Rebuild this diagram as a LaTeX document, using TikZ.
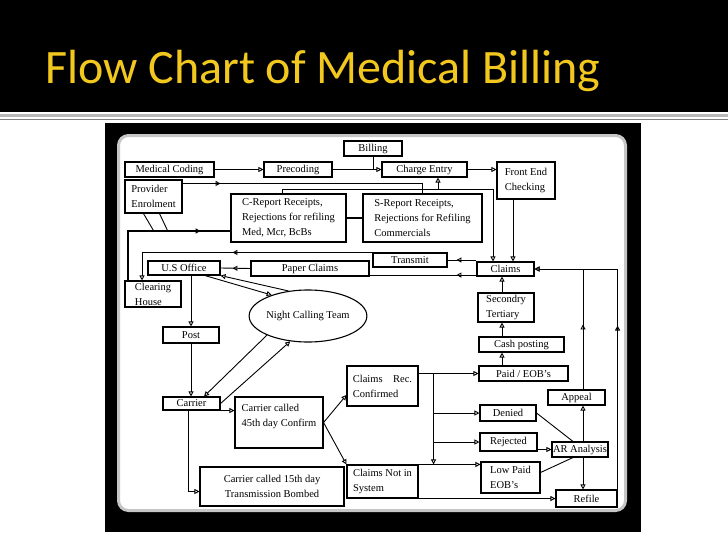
\documentclass[tikz,border=0pt]{standalone}
\usepackage{fontspec}
\setmainfont{Liberation Serif}
\newfontfamily\titlefont{Carlito}
\usetikzlibrary{arrows.meta,shapes.geometric,decorations.markings,calc}
\definecolor{titleyellow}{RGB}{242,200,30}
\newcommand\bx[7][]{\node[box,#1,minimum width={#5-#3},minimum height={#6-#4}] (#2) at ({(#3+#5)/2},{(#4+#6)/2}) {#7};}
\begin{document}
\begin{tikzpicture}[x=1pt,y=-1pt,
  box/.style={draw,line width=1.1pt,fill=white,inner sep=0pt,font=\fontsize{10.5}{15}\selectfont,align=center},
  conn/.style={line width=0.9pt},
  heavy/.style={line width=1.8pt},
  >={Triangle[open,length=5pt,width=5pt]},
  midarr/.style={postaction={decorate,decoration={markings,mark=at position #1 with {\arrow{Triangle[open,length=5pt,width=5pt]}}}}}]
\useasboundingbox (0,0) rectangle (728,546);
\fill[white] (0,0) rectangle (728,546);
% title band
\fill[black] (0,0) rectangle (728,112);
\draw[gray!55,line width=3pt] (0,115) -- (728,115);
\draw[gray,line width=0.8pt] (0,119.5) -- (728,119.5);
\node[anchor=base west,inner sep=0pt,text=titleyellow,font=\titlefont\fontsize{48}{48}\selectfont] (title) at (45,83) {Flow Chart of Medical Billing};
% frame
\fill[black] (105,123) rectangle (641,532);
\draw[gray!45,line width=3pt,fill=white,rounded corners=10pt] (118.5,135.5) rectangle (625.5,510.5);
% boxes
\bx{bill}{344}{141}{402}{156}{Billing}
\bx{mc}{125}{162}{214}{177}{Medical Coding}
\bx{pre}{264}{162}{332}{177}{Precoding}
\bx{ce}{382}{162}{467}{177}{Charge Entry}
\bx[align=left]{fec}{497}{162}{555}{199}{Front End\\Checking}
\bx[align=left]{pe}{125}{180}{182}{213}{Provider\\Enrolment}
\bx[align=left]{crep}{231}{194}{346}{242}{C-Report Receipts,\\Rejections for refiling\\Med, Mcr, BcBs}
\bx[align=left]{srep}{363}{194}{482}{242}{S-Report Receipts,\\Rejections for Refiling\\Commercials}
\bx{trans}{373}{253}{447}{267}{Transmit}
\bx{paper}{251}{261}{369}{276}{Paper Claims}
\bx{uso}{148}{261}{220}{275}{U.S Office}
\bx{claims}{477}{262}{534}{276}{Claims}
\bx[align=left]{ch}{125}{281}{181}{307}{Clearing\\House}
\bx[align=left]{sec}{478}{293}{534}{322}{Secondry\\Tertiary}
\bx{post}{163}{327}{219}{343}{Post}
\bx{cash}{479}{337}{564}{352}{Cash posting}
\bx[align=left]{crc}{347}{366}{418}{406}{Claims\quad Rec.\\Confirmed}
\bx{paid}{479}{366}{568}{381}{Paid / EOB's}
\bx{carr}{163}{397}{220}{410}{Carrier}
\bx[align=left]{c45}{235}{397}{323}{448}{Carrier called\\45th day Confirm\\\mbox{}}
\bx{appeal}{548}{390}{605}{405}{Appeal}
\bx{denied}{480}{405}{536}{421}{Denied}
\bx{rej}{480}{433}{537}{451}{Rejected}
\bx{ar}{552}{442}{608}{457}{AR Analysis}
\bx[align=left]{low}{481}{462}{540}{493}{Low Paid\\EOB's}
\bx[align=left]{cnis}{347}{465}{418}{498}{Claims Not in\\System}
\bx{c15}{200}{467}{344}{506}{Carrier called 15th day\\Transmission Bombed}
\bx{refile}{556}{490}{617}{507}{Refile}
\node[draw,ellipse,line width=1.1pt,fill=white,inner sep=0pt,minimum width=116,minimum height=52,font=\fontsize{10.5}{15}\selectfont] (nct) at (308,316) {Night Calling Team};
% helper coordinates
\coordinate (j2) at (493,189);
\coordinate (j3) at (438,189);
\coordinate (j4) at (513,230);
\coordinate (jc) at (502,300);
\coordinate (jx) at (583,300);
\path (crc.east |- paid.west) ++(15,0) coordinate (jt);
\path ([yshift=1.5pt]claims.south west) coordinate (j5);
% connectors top
\draw[conn,->] (mc.east) -- (pre.west);
\draw[conn,->] (pre.east) -- (ce.west);
\draw[conn] (bill.south) -- (bill.south |- pre.east);
\draw[conn,->] (ce.east) -- (ce.east -| fec.west);
\draw[conn,midarr=38pt] ([yshift=-4pt]pe.north east) -| (srep.north);
\draw[conn,->] ([xshift=-6pt]crep.north) |- (j2) -- (j2 |- claims.north);
\draw[conn,->] (j3) -- (j3 |- ce.south);
\draw[conn,->] (fec.south -| j4) -- (j4 |- claims.north);
\draw[heavy,midarr=122pt] ([xshift=-25pt]ch.north) |- ([yshift=-13pt]crep.west);
\draw[conn] ([xshift=-10pt]pe.south) -- ++(10,17);
\draw[conn] ([xshift=6pt]pe.south) -- ++(8,17);
\draw[heavy] (crep.east) -- (srep.west);
% claims row
\draw[conn,->,midarr=140pt] (trans.north west) -| ([xshift=-11pt]ch.north);
\draw[conn,midarr=20pt] (trans.east -| claims.west) -- (trans.east);
\draw[conn,midarr=20pt] (j5) -- (j5 -| paper.east);
\draw[conn,midarr=18pt] (paper.west) -- (uso.east);
\draw[conn,->] ([xshift=21pt]uso.south) -- (nct.150);
\draw[conn,->] (nct.128) -- (uso.south east);
\draw[conn,->] (nct.205) -- ([xshift=12.5pt]carr.north);
\draw[conn,->] (carr.east) -- (nct.235);
\draw[conn,->] (post.north |- uso.south) -- (post.north);
\draw[conn,->] (post.south) -- (post.south |- carr.north);
\draw[conn,->] (carr.south east) -- (carr.south east -| c45.west);
\draw[conn,->] ([xshift=-3pt]carr.south) |- ([yshift=-5pt]c15.west);
\draw[conn,->] (c45.east) -- ([yshift=-9pt]crc.west);
\draw[conn,->] (c45.east) -- (cnis.north west);
% right part
\draw[conn,->] (crc.east |- paid.west) -- (paid.west);
\draw[conn,->] (jt) -- (jt |- cnis.north);
\draw[conn,->] (jt |- denied.west) -- (denied.west);
\draw[conn,->] (jt |- rej.west) -- (rej.west);
\draw[conn,->] (cnis.north east) -- (cnis.north east -| low.west);
\draw[conn,->] (cnis.south east) -- (cnis.south east -| refile.west);
\draw[conn] (denied.east) -- ([xshift=-7pt]ar.north);
\draw[conn,->] (rej.east |- ar.west) -- (ar.west);
\draw[conn] ([yshift=5pt]low.east) -- ([xshift=-7pt]ar.south);
\draw[conn,->] (jx |- ar.north) -- (jx |- appeal.south);
\draw[conn,->] (jx |- ar.south) -- (jx |- refile.north);
\draw[conn,->,midarr=65pt] (jx |- appeal.north) |- (claims.east);
\draw[conn,->,midarr=173pt] (refile.east) |- (claims.east);
\draw[conn,->] (jc |- sec.north) -- (jc |- claims.south);
\draw[conn,->] (jc |- cash.north) -- (jc |- sec.south);
\draw[conn,->] (jc |- paid.north) -- (jc |- cash.south);
\end{tikzpicture}
\end{document}
